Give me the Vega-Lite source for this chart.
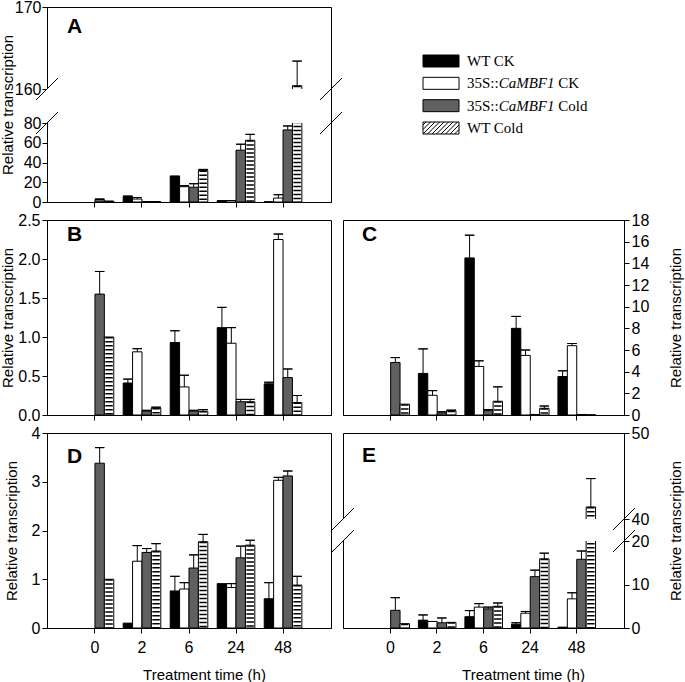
{
"$schema": "https://vega.github.io/schema/vega-lite/v6.json",
"background": "white",
"padding": {"left": -1, "top": -2, "right": 0, "bottom": 0},
"columns": 2,
"spacing": {"row": 18, "column": 12},
"bounds": "flush",
"align": "all",
"datasets": {
"A": [
{"t":"0","s":"35S Cold","v":2.5,"hi":3},
{"t":"0","s":"WT Cold","v":1},
{"t":"2","s":"WT CK","v":5.5,"hi":6},
{"t":"2","s":"35S CK","v":3,"hi":4.5},
{"t":"2","s":"35S Cold","v":0.5},
{"t":"2","s":"WT Cold","v":0.5},
{"t":"6","s":"WT CK","v":26.4},
{"t":"6","s":"35S CK","v":15.5,"hi":16.5},
{"t":"6","s":"35S Cold","v":15,"hi":18.5},
{"t":"6","s":"WT Cold","v":32,"hi":33},
{"t":"24","s":"WT CK","v":1.5},
{"t":"24","s":"35S CK","v":1.5},
{"t":"24","s":"35S Cold","v":52.5,"hi":58.5},
{"t":"24","s":"WT Cold","v":62.5,"hi":68.5},
{"t":"48","s":"WT CK","v":0.3},
{"t":"48","s":"35S CK","v":4,"hi":7.4},
{"t":"48","s":"35S Cold","v":73,"hi":77},
{"t":"48","s":"WT Cold","v":160.4,"hi":163.4}
],
"B": [
{"t":"0","s":"35S Cold","v":1.55,"hi":1.84},
{"t":"0","s":"WT Cold","v":1.0},
{"t":"2","s":"WT CK","v":0.41,"hi":0.46},
{"t":"2","s":"35S CK","v":0.81,"hi":0.85},
{"t":"2","s":"35S Cold","v":0.05,"hi":0.06},
{"t":"2","s":"WT Cold","v":0.09,"hi":0.1},
{"t":"6","s":"WT CK","v":0.93,"hi":1.08},
{"t":"6","s":"35S CK","v":0.36,"hi":0.51},
{"t":"6","s":"35S Cold","v":0.05,"hi":0.06},
{"t":"6","s":"WT Cold","v":0.05,"hi":0.07},
{"t":"24","s":"WT CK","v":1.12,"hi":1.38},
{"t":"24","s":"35S CK","v":0.92,"hi":1.12},
{"t":"24","s":"35S Cold","v":0.17,"hi":0.2},
{"t":"24","s":"WT Cold","v":0.17,"hi":0.2},
{"t":"48","s":"WT CK","v":0.4,"hi":0.42},
{"t":"48","s":"35S CK","v":2.25,"hi":2.32},
{"t":"48","s":"35S Cold","v":0.48,"hi":0.59},
{"t":"48","s":"WT Cold","v":0.16,"hi":0.25}
],
"C": [
{"t":"0","s":"35S Cold","v":4.85,"hi":5.3},
{"t":"0","s":"WT Cold","v":1.0},
{"t":"2","s":"WT CK","v":3.84,"hi":6.1},
{"t":"2","s":"35S CK","v":1.82,"hi":2.25},
{"t":"2","s":"35S Cold","v":0.2,"hi":0.3},
{"t":"2","s":"WT Cold","v":0.4,"hi":0.45},
{"t":"6","s":"WT CK","v":14.5,"hi":16.6},
{"t":"6","s":"35S CK","v":4.48,"hi":5.0},
{"t":"6","s":"35S Cold","v":0.4,"hi":0.5},
{"t":"6","s":"WT Cold","v":1.27,"hi":2.6},
{"t":"24","s":"WT CK","v":8.0,"hi":9.1},
{"t":"24","s":"35S CK","v":5.5,"hi":6.0},
{"t":"24","s":"35S Cold","v":0.05},
{"t":"24","s":"WT Cold","v":0.62,"hi":0.83},
{"t":"48","s":"WT CK","v":3.55,"hi":4.08},
{"t":"48","s":"35S CK","v":6.4,"hi":6.6},
{"t":"48","s":"35S Cold","v":0.05},
{"t":"48","s":"WT Cold","v":0.02}
],
"D": [
{"t":"0","s":"35S Cold","v":3.38,"hi":3.7},
{"t":"0","s":"WT Cold","v":1.0},
{"t":"2","s":"WT CK","v":0.1},
{"t":"2","s":"35S CK","v":1.37,"hi":1.69},
{"t":"2","s":"35S Cold","v":1.55,"hi":1.63},
{"t":"2","s":"WT Cold","v":1.58,"hi":1.73},
{"t":"6","s":"WT CK","v":0.76,"hi":1.06},
{"t":"6","s":"35S CK","v":0.8,"hi":0.93},
{"t":"6","s":"35S Cold","v":1.23,"hi":1.5},
{"t":"6","s":"WT Cold","v":1.77,"hi":1.92},
{"t":"24","s":"WT CK","v":0.91},
{"t":"24","s":"35S CK","v":0.83,"hi":0.91},
{"t":"24","s":"35S Cold","v":1.44,"hi":1.68},
{"t":"24","s":"WT Cold","v":1.7,"hi":1.8},
{"t":"48","s":"WT CK","v":0.6,"hi":0.93},
{"t":"48","s":"35S CK","v":3.03,"hi":3.09},
{"t":"48","s":"35S Cold","v":3.12,"hi":3.22},
{"t":"48","s":"WT Cold","v":0.88,"hi":1.06}
],
"E": [
{"t":"0","s":"35S Cold","v":4.06,"hi":6.97},
{"t":"0","s":"WT Cold","v":1.0},
{"t":"2","s":"WT CK","v":1.8,"hi":3.0},
{"t":"2","s":"35S CK","v":1.5},
{"t":"2","s":"35S Cold","v":1.2,"hi":2.3},
{"t":"2","s":"WT Cold","v":1.3},
{"t":"6","s":"WT CK","v":2.6,"hi":4.0},
{"t":"6","s":"35S CK","v":4.8,"hi":5.6},
{"t":"6","s":"35S Cold","v":4.4,"hi":4.8},
{"t":"6","s":"WT Cold","v":5.0,"hi":5.75},
{"t":"24","s":"WT CK","v":0.85,"hi":1.2},
{"t":"24","s":"35S CK","v":3.4,"hi":3.8},
{"t":"24","s":"35S Cold","v":11.8,"hi":13.3},
{"t":"24","s":"WT Cold","v":15.9,"hi":17.2},
{"t":"48","s":"WT CK","v":0.2},
{"t":"48","s":"35S CK","v":6.7,"hi":8.1},
{"t":"48","s":"35S Cold","v":15.8,"hi":17.7},
{"t":"48","s":"WT Cold","v":41.4,"hi":44.7}
]
},
"concat": [
{
"width": 284, "height": 195,
"title": {"text": "A", "anchor": "start", "frame": "group", "dx": 20, "offset": -55, "baseline": "alphabetic"},
"resolve": {"scale": {"x": "independent"}},
"layer": [
{
"data": {"name": "A"},
"encoding": {
"x": {"field": "t", "type": "nominal", "sort": ["0","2","6","24","48"], "scale": {"domain": ["0","2","6","24","48"], "paddingInner": 0.2, "paddingOuter": 0.62}, "axis": {"title": null, "labels": false}},
"xOffset": {"field": "s", "type": "nominal", "sort": ["WT CK","35S CK","35S Cold","WT Cold"], "scale": {"domain": ["WT CK","35S CK","35S Cold","WT Cold"]}}
},
"layer": [
{"mark": {"type": "bar", "stroke": "black", "strokeWidth": 1},
 "encoding": {
 "y": {"field": "v", "type": "quantitative", "scale": {"domain": [0,80,160,170], "range": [195,116,82,0], "nice": false, "zero": false}, "axis": {"title": "Relative transcription", "values": [0,20,40,60,80,160,170], "format": "d", "tickCount": 50, "labelOverlap": false, "labelPadding": 1, "titleX": -32}},
 "fill": {"field": "s", "type": "nominal", "scale": {"domain": ["WT CK","35S CK","35S Cold","WT Cold"], "range": ["#000000","#ffffff","#606060","#ffffff"]}, "legend": null}}},
{"transform": [{"filter": {"field": "s", "equal": "WT Cold"}}],
 "mark": {"type": "rule", "color": "black", "strokeWidth": 7.5, "strokeDash": [1.5, 2.5], "strokeCap": "butt"},
 "encoding": {"y": {"field": "v", "type": "quantitative"}, "y2": {"datum": 0}}},
{"transform": [{"filter": {"field": "hi", "valid": true}}],
 "mark": {"type": "rule", "color": "black", "strokeWidth": 1},
 "encoding": {"y": {"field": "v", "type": "quantitative"}, "y2": {"field": "hi"}}},
{"transform": [{"filter": {"field": "hi", "valid": true}}],
 "mark": {"type": "bar", "filled": false, "color": "black", "strokeWidth": 1},
 "encoding": {"y": {"field": "hi", "type": "quantitative"}, "y2": {"field": "hi"}}}
]
},
{"data": {"values": [{}]}, "mark": {"type": "rect", "fill": "white"}, "encoding": {"y": {"datum": 80, "type": "quantitative"}, "y2": {"datum": 160}}},
{"data": {"values": [{"b": 80}, {"b": 160}]},
 "layer": [
 {"mark": {"type": "point", "shape": "M-1,1L1,-1", "size": 484, "filled": false, "stroke": "black", "strokeWidth": 1, "opacity": 1},
  "encoding": {"x": {"datum": 0, "type": "quantitative", "scale": {"domain": [0,1]}, "axis": null}, "y": {"field": "b", "type": "quantitative"}}},
 {"mark": {"type": "point", "shape": "M-1,1L1,-1", "size": 484, "filled": false, "stroke": "black", "strokeWidth": 1, "opacity": 1},
  "encoding": {"x": {"datum": 1, "type": "quantitative", "scale": {"domain": [0,1]}, "axis": null}, "y": {"field": "b", "type": "quantitative"}}}
 ]}
]
},
{
"width": 196, "height": 175,
"view": {"stroke": null},
"data": {"values": [
{"s": "WT CK", "pre": "WT CK", "it": "", "post": ""},
{"s": "35S CK", "pre": "35S::", "it": "CaMBF1", "post": "CK"},
{"s": "35S Cold", "pre": "35S::", "it": "CaMBF1", "post": "Cold"},
{"s": "WT Cold", "pre": "WT Cold", "it": "", "post": ""}
]},
"encoding": {"y": {"field": "s", "type": "nominal", "sort": ["WT CK","35S CK","35S Cold","WT Cold"], "scale": {"type": "point", "domain": ["WT CK","35S CK","35S Cold","WT Cold"], "range": [54, 121], "padding": 0}, "axis": null}},
"layer": [
{"mark": {"type": "point", "shape": "M-1.5,-0.5L1.5,-0.5L1.5,0.5L-1.5,0.5Z", "size": 576, "filled": true, "stroke": "black", "strokeWidth": 1, "opacity": 1},
 "encoding": {"fill": {"field": "s", "type": "nominal", "scale": {"domain": ["WT CK","35S CK","35S Cold","WT Cold"], "range": ["#000000","#ffffff","#606060","#ffffff"]}, "legend": null}}},
{"transform": [{"filter": {"field": "s", "equal": "WT Cold"}}],
 "mark": {"type": "point", "shape": "M-1.5,-0.25L-1.25,-0.5M-1.5,0.125L-0.875,-0.5M-1.5,0.5L-0.5,-0.5M-1.125,0.5L-0.125,-0.5M-0.75,0.5L0.25,-0.5M-0.375,0.5L0.625,-0.5M0,0.5L1,-0.5M0.375,0.5L1.375,-0.5M0.75,0.5L1.5,-0.25M1.125,0.5L1.5,0.125", "size": 576, "filled": false, "stroke": "black", "strokeWidth": 1, "opacity": 1}},
{"mark": {"type": "text", "align": "left", "baseline": "middle", "dx": 26, "font": "Liberation Serif", "fontSize": 15, "color": "black"}, "encoding": {"text": {"field": "pre"}}},
{"mark": {"type": "text", "align": "left", "baseline": "middle", "dx": 57.7, "font": "Liberation Serif", "fontSize": 15, "fontStyle": "italic", "color": "black"}, "encoding": {"text": {"field": "it"}}},
{"mark": {"type": "text", "align": "left", "baseline": "middle", "dx": 117.3, "font": "Liberation Serif", "fontSize": 15, "color": "black"}, "encoding": {"text": {"field": "post"}}}
]
},
{
"width": 284, "height": 195,
"title": {"text": "B", "anchor": "start", "frame": "group", "dx": 20, "offset": -50, "baseline": "alphabetic"},
"data": {"name": "B"},
"encoding": {
"x": {"field": "t", "type": "nominal", "sort": ["0","2","6","24","48"], "scale": {"domain": ["0","2","6","24","48"], "paddingInner": 0.2, "paddingOuter": 0.62}, "axis": {"title": null, "labels": false}},
"xOffset": {"field": "s", "type": "nominal", "sort": ["WT CK","35S CK","35S Cold","WT Cold"], "scale": {"domain": ["WT CK","35S CK","35S Cold","WT Cold"]}}
},
"layer": [
{"mark": {"type": "bar", "stroke": "black", "strokeWidth": 1},
 "encoding": {
 "y": {"field": "v", "type": "quantitative", "scale": {"domain": [0, 2.5], "nice": false}, "axis": {"title": "Relative transcription", "values": [0,0.5,1,1.5,2,2.5], "tickCount": 50, "format": ".1f", "labelOverlap": false, "titleX": -32}},
 "fill": {"field": "s", "type": "nominal", "scale": {"domain": ["WT CK","35S CK","35S Cold","WT Cold"], "range": ["#000000","#ffffff","#606060","#ffffff"]}, "legend": null}}},
{"transform": [{"filter": {"field": "s", "equal": "WT Cold"}}],
 "mark": {"type": "rule", "color": "black", "strokeWidth": 7.5, "strokeDash": [1.5, 2.5], "strokeCap": "butt"},
 "encoding": {"y": {"field": "v", "type": "quantitative"}, "y2": {"datum": 0}}},
{"transform": [{"filter": {"field": "hi", "valid": true}}],
 "mark": {"type": "rule", "color": "black", "strokeWidth": 1},
 "encoding": {"y": {"field": "v", "type": "quantitative"}, "y2": {"field": "hi"}}},
{"transform": [{"filter": {"field": "hi", "valid": true}}],
 "mark": {"type": "bar", "filled": false, "color": "black", "strokeWidth": 1},
 "encoding": {"y": {"field": "hi", "type": "quantitative"}, "y2": {"field": "hi"}}}
]
},
{
"width": 281, "height": 195,
"title": {"text": "C", "anchor": "start", "frame": "group", "dx": 19, "offset": -50, "baseline": "alphabetic"},
"data": {"name": "C"},
"encoding": {
"x": {"field": "t", "type": "nominal", "sort": ["0","2","6","24","48"], "scale": {"domain": ["0","2","6","24","48"], "paddingInner": 0.2, "paddingOuter": 0.62}, "axis": {"title": null, "labels": false}},
"xOffset": {"field": "s", "type": "nominal", "sort": ["WT CK","35S CK","35S Cold","WT Cold"], "scale": {"domain": ["WT CK","35S CK","35S Cold","WT Cold"]}}
},
"layer": [
{"mark": {"type": "bar", "stroke": "black", "strokeWidth": 1},
 "encoding": {
 "y": {"field": "v", "type": "quantitative", "scale": {"domain": [0, 18], "nice": false}, "axis": {"orient": "right", "title": "Relative transcription", "values": [0,2,4,6,8,10,12,14,16,18], "format": "d", "tickCount": 50, "labelOverlap": false, "titleAngle": 270, "titleBaseline": "top", "titlePadding": 20}},
 "fill": {"field": "s", "type": "nominal", "scale": {"domain": ["WT CK","35S CK","35S Cold","WT Cold"], "range": ["#000000","#ffffff","#606060","#ffffff"]}, "legend": null}}},
{"transform": [{"filter": {"field": "s", "equal": "WT Cold"}}],
 "mark": {"type": "rule", "color": "black", "strokeWidth": 7.5, "strokeDash": [1.5, 2.5], "strokeCap": "butt"},
 "encoding": {"y": {"field": "v", "type": "quantitative"}, "y2": {"datum": 0}}},
{"transform": [{"filter": {"field": "hi", "valid": true}}],
 "mark": {"type": "rule", "color": "black", "strokeWidth": 1},
 "encoding": {"y": {"field": "v", "type": "quantitative"}, "y2": {"field": "hi"}}},
{"transform": [{"filter": {"field": "hi", "valid": true}}],
 "mark": {"type": "bar", "filled": false, "color": "black", "strokeWidth": 1},
 "encoding": {"y": {"field": "hi", "type": "quantitative"}, "y2": {"field": "hi"}}}
]
},
{
"width": 284, "height": 195,
"title": {"text": "D", "anchor": "start", "frame": "group", "dx": 20, "offset": -59, "baseline": "alphabetic"},
"data": {"name": "D"},
"encoding": {
"x": {"field": "t", "type": "nominal", "sort": ["0","2","6","24","48"], "scale": {"domain": ["0","2","6","24","48"], "paddingInner": 0.2, "paddingOuter": 0.62}, "axis": {"title": "Treatment time (h)", "labelAngle": 0, "labelPadding": 6, "titlePadding": 12, "titleX": 157, "labelOverlap": false}},
"xOffset": {"field": "s", "type": "nominal", "sort": ["WT CK","35S CK","35S Cold","WT Cold"], "scale": {"domain": ["WT CK","35S CK","35S Cold","WT Cold"]}}
},
"layer": [
{"mark": {"type": "bar", "stroke": "black", "strokeWidth": 1},
 "encoding": {
 "y": {"field": "v", "type": "quantitative", "scale": {"domain": [0, 4], "nice": false}, "axis": {"title": "Relative transcription", "values": [0,1,2,3,4], "format": "d", "tickCount": 50, "labelOverlap": false, "titleX": -28}},
 "fill": {"field": "s", "type": "nominal", "scale": {"domain": ["WT CK","35S CK","35S Cold","WT Cold"], "range": ["#000000","#ffffff","#606060","#ffffff"]}, "legend": null}}},
{"transform": [{"filter": {"field": "s", "equal": "WT Cold"}}],
 "mark": {"type": "rule", "color": "black", "strokeWidth": 7.5, "strokeDash": [1.5, 2.5], "strokeCap": "butt"},
 "encoding": {"y": {"field": "v", "type": "quantitative"}, "y2": {"datum": 0}}},
{"transform": [{"filter": {"field": "hi", "valid": true}}],
 "mark": {"type": "rule", "color": "black", "strokeWidth": 1},
 "encoding": {"y": {"field": "v", "type": "quantitative"}, "y2": {"field": "hi"}}},
{"transform": [{"filter": {"field": "hi", "valid": true}}],
 "mark": {"type": "bar", "filled": false, "color": "black", "strokeWidth": 1},
 "encoding": {"y": {"field": "hi", "type": "quantitative"}, "y2": {"field": "hi"}}}
]
},
{
"width": 281, "height": 195,
"title": {"text": "E", "anchor": "start", "frame": "group", "dx": 19, "offset": -58, "baseline": "alphabetic"},
"resolve": {"scale": {"x": "independent"}},
"layer": [
{
"data": {"name": "E"},
"encoding": {
"x": {"field": "t", "type": "nominal", "sort": ["0","2","6","24","48"], "scale": {"domain": ["0","2","6","24","48"], "paddingInner": 0.2, "paddingOuter": 0.62}, "axis": {"title": "Treatment time (h)", "labelAngle": 0, "labelPadding": 6, "titlePadding": 12, "titleX": 180, "titleAnchor": "middle", "labelOverlap": false}},
"xOffset": {"field": "s", "type": "nominal", "sort": ["WT CK","35S CK","35S Cold","WT Cold"], "scale": {"domain": ["WT CK","35S CK","35S Cold","WT Cold"]}}
},
"layer": [
{"mark": {"type": "bar", "stroke": "black", "strokeWidth": 1},
 "encoding": {
 "y": {"field": "v", "type": "quantitative", "scale": {"domain": [0,20,40,50], "range": [195,108,86,0], "nice": false, "zero": false}, "axis": {"orient": "right", "title": "Relative transcription", "values": [0,10,20,40,50], "format": "d", "tickCount": 50, "labelOverlap": false, "titleAngle": 270, "titleBaseline": "top", "titlePadding": 20}},
 "fill": {"field": "s", "type": "nominal", "scale": {"domain": ["WT CK","35S CK","35S Cold","WT Cold"], "range": ["#000000","#ffffff","#606060","#ffffff"]}, "legend": null}}},
{"transform": [{"filter": {"field": "s", "equal": "WT Cold"}}],
 "mark": {"type": "rule", "color": "black", "strokeWidth": 7.5, "strokeDash": [1.5, 2.5], "strokeCap": "butt"},
 "encoding": {"y": {"field": "v", "type": "quantitative"}, "y2": {"datum": 0}}},
{"transform": [{"filter": {"field": "hi", "valid": true}}],
 "mark": {"type": "rule", "color": "black", "strokeWidth": 1},
 "encoding": {"y": {"field": "v", "type": "quantitative"}, "y2": {"field": "hi"}}},
{"transform": [{"filter": {"field": "hi", "valid": true}}],
 "mark": {"type": "bar", "filled": false, "color": "black", "strokeWidth": 1},
 "encoding": {"y": {"field": "hi", "type": "quantitative"}, "y2": {"field": "hi"}}}
]
},
{"data": {"values": [{}]}, "mark": {"type": "rect", "fill": "white"}, "encoding": {"y": {"datum": 20, "type": "quantitative"}, "y2": {"datum": 40}}},
{"data": {"values": [{"b": 20}, {"b": 40}]},
 "layer": [
 {"mark": {"type": "point", "shape": "M-1,1L1,-1", "size": 484, "filled": false, "stroke": "black", "strokeWidth": 1, "opacity": 1},
  "encoding": {"x": {"datum": 0, "type": "quantitative", "scale": {"domain": [0,1]}, "axis": null}, "y": {"field": "b", "type": "quantitative"}}},
 {"mark": {"type": "point", "shape": "M-1,1L1,-1", "size": 484, "filled": false, "stroke": "black", "strokeWidth": 1, "opacity": 1},
  "encoding": {"x": {"datum": 1, "type": "quantitative", "scale": {"domain": [0,1]}, "axis": null}, "y": {"field": "b", "type": "quantitative"}}}
 ]}
]
}
],
"config": {
"font": "Liberation Sans",
"view": {"stroke": "black", "strokeWidth": 1},
"axis": {"labelFont": "Liberation Sans", "labelFontSize": 16, "labelColor": "black", "labelOverlap": false, "titleFont": "Liberation Sans", "titleFontSize": 15, "titleFontWeight": "normal", "titleColor": "black", "domainColor": "black", "tickColor": "black", "tickSize": 5, "labelPadding": 2, "titlePadding": 5, "grid": false},
"title": {"font": "Liberation Sans", "fontSize": 21, "fontWeight": "bold", "color": "black"}
}
}
